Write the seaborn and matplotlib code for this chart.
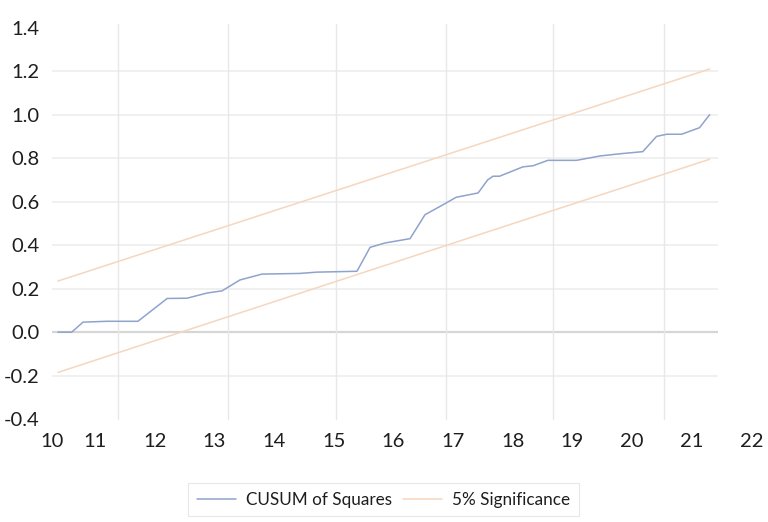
import matplotlib
matplotlib.use("Agg")
import matplotlib.pyplot as plt
import matplotlib.transforms as mtransforms
import seaborn as sns
import pandas as pd

# CUSUM of squares path (x on the tick-label scale)
cusum_x = [10.38, 10.61, 10.80, 11.20, 11.72, 12.21, 12.54, 12.88, 13.13, 13.43,
           13.80, 14.43, 14.72, 15.39, 15.61, 15.86, 16.28, 16.53, 16.86, 17.05,
           17.42, 17.58, 17.67, 17.78, 18.17, 18.34, 18.59, 19.07, 19.46, 19.79,
           20.18, 20.41, 20.58, 20.83, 21.13, 21.30]
cusum_y = [0.000, 0.000, 0.046, 0.050, 0.050, 0.155, 0.156, 0.180, 0.190, 0.240,
           0.267, 0.270, 0.276, 0.280, 0.390, 0.410, 0.430, 0.540, 0.590, 0.620,
           0.640, 0.700, 0.717, 0.717, 0.760, 0.765, 0.790, 0.790, 0.810, 0.820,
           0.830, 0.900, 0.910, 0.910, 0.940, 1.000]

# 5% significance band (straight lines between first and last observation)
band_x = [10.38, 21.30]
band_upper = [0.235, 1.21]
band_lower = [-0.185, 0.795]

x_labels = [10, 11, 12, 13, 14, 15, 16, 17, 18, 19, 20, 21, 22]
y_ticks = [-0.4, -0.2, 0.0, 0.2, 0.4, 0.6, 0.8, 1.0, 1.2, 1.4]

cusum_df = pd.DataFrame({"x": cusum_x, "y": cusum_y})
upper_df = pd.DataFrame({"x": band_x, "y": band_upper})
lower_df = pd.DataFrame({"x": band_x, "y": band_lower})

sns.set_theme(style="white")
plt.rcParams["font.family"] = ["Lato", "DejaVu Sans"]
plt.rcParams["axes.unicode_minus"] = False

fig = plt.figure(figsize=(7.68, 5.22), dpi=100)
ax = fig.add_axes([0.0677, 0.197, 0.8672, 0.750])

blue = "#8fa3cc"
orange = "#f6d6bf"

sns.lineplot(data=cusum_df, x="x", y="y", ax=ax, color=blue, linewidth=1.1,
             label="CUSUM of Squares", sort=False)
sns.lineplot(data=upper_df, x="x", y="y", ax=ax, color=orange, linewidth=1.1,
             label="5% Significance", sort=False)
sns.lineplot(data=lower_df, x="x", y="y", ax=ax, color=orange, linewidth=1.1,
             legend=False, sort=False)

xmin, xmax = 10.28, 21.44
ax.set_xlim(xmin, xmax)
ax.set_ylim(-0.4, 1.4)
ax.set_xlabel("")
ax.set_ylabel("")

for s in ax.spines.values():
    s.set_visible(False)

# horizontal gridlines
ax.set_yticks(y_ticks)
ax.set_yticklabels([f"{v:.1f}" for v in y_ticks])
ax.tick_params(axis="y", length=0, pad=9, labelsize=14.5, labelcolor="#1e1e1e")
for v in y_ticks[1:-1]:
    ax.axhline(v, color="#d6d6d6" if v == 0 else "#eeeeee",
               linewidth=1.6 if v == 0 else 1.2, zorder=0)

# vertical gridlines every ten observations
vgrid = [11.385, 13.23, 15.04, 16.88, 18.67, 20.53]
for v in vgrid:
    ax.axvline(v, ymin=0, ymax=1.01, color="#e8e8e8", linewidth=1.0, zorder=0,
               clip_on=False)

# category labels along the bottom
ax.set_xticks([])
trans = mtransforms.blended_transform_factory(ax.transData, ax.transAxes)
for lab in x_labels:
    pos = max(lab, xmin)
    ax.text(pos, -0.058, str(lab), transform=trans, ha="center", va="center",
            fontsize=14.5, color="#1e1e1e", clip_on=False)

ax.get_legend().remove()
handles, labels = ax.get_legend_handles_labels()
leg = fig.legend(handles, labels, loc="upper center", bbox_to_anchor=(0.4993, 0.0747),
                 ncol=2, frameon=True, fancybox=False, fontsize=12.3,
                 handlelength=2.3, handletextpad=0.6, columnspacing=0.6,
                 borderpad=0.5, borderaxespad=0)
leg.get_frame().set_edgecolor("#e2e2e2")
leg.get_frame().set_linewidth(0.8)
for t in leg.get_texts():
    t.set_color("#1e1e1e")

fig.savefig("out.png", dpi=100)
